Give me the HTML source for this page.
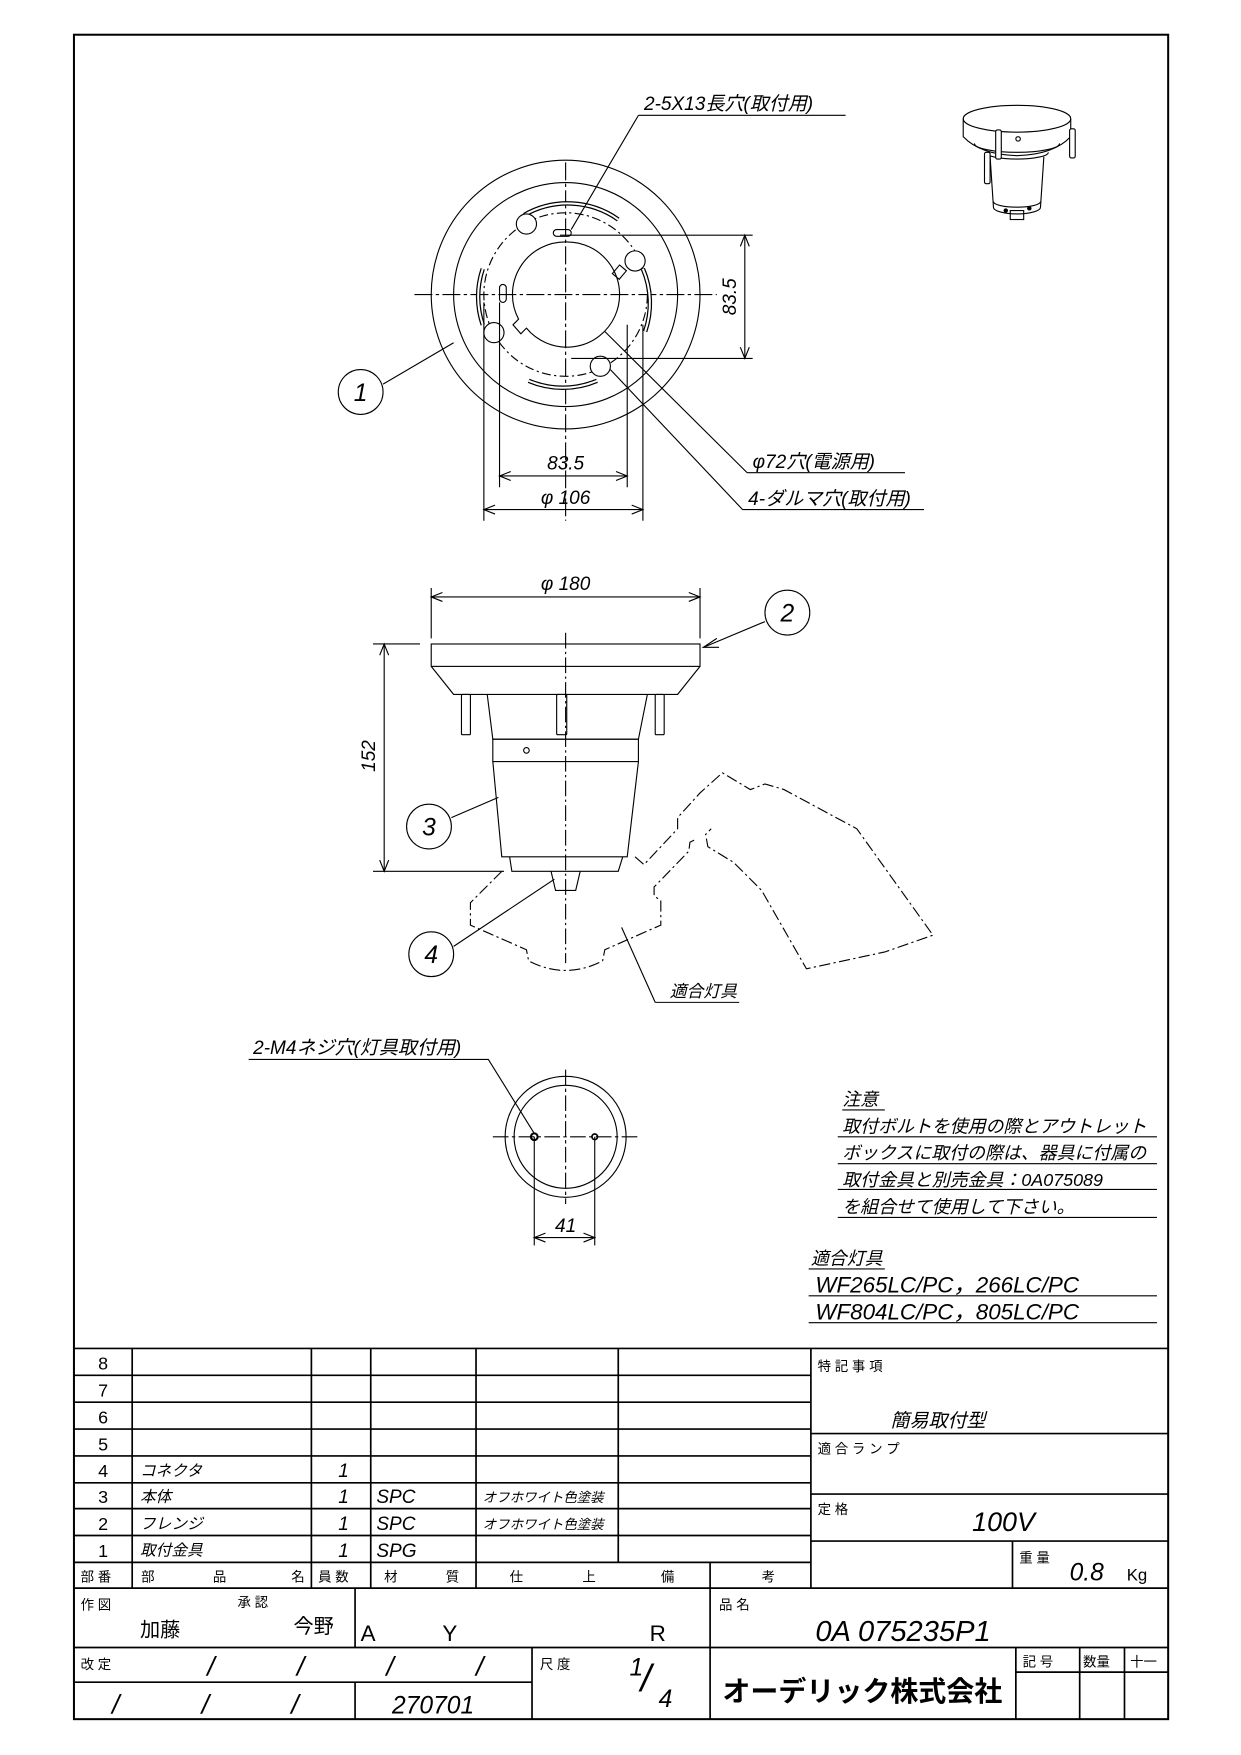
<!DOCTYPE html>
<html><head><meta charset="utf-8"><style>
html,body{margin:0;padding:0;background:#fff}
svg{display:block}
text{font-family:"Liberation Sans","Noto Sans CJK JP",sans-serif;fill:#000}
.i{font-style:italic}
</style></head><body>
<svg width="1241" height="1755" viewBox="0 0 1108 1567" xmlns="http://www.w3.org/2000/svg">
<g fill="none" stroke="#000" stroke-width="1">
<rect x="66" y="31" width="977" height="1504" stroke-width="1.8"/>

<!-- TOP VIEW -->
<circle cx="505" cy="263" r="120"/>
<circle cx="505" cy="263" r="100"/>
<circle cx="505" cy="263" r="73" stroke-dasharray="8,3,2,3"/>
<path d="M505,216 A47,47 0 1,1 470,293 L465,298 L458,290 L463,285 A47,47 0 0,1 505,216Z"/>
<rect x="549" y="238" width="8" height="10" transform="rotate(40 553 243)"/>
<line x1="370" y1="263" x2="640" y2="263" stroke-dasharray="16,3,3,3"/>
<line x1="505" y1="145" x2="505" y2="465" stroke-dasharray="16,3,3,3"/>
<path d="M468,192 A78,78 0 0,1 552,196" stroke-width="4"/>
<path d="M468,192 A78,78 0 0,1 552,196" stroke="#fff" stroke-width="1.8"/>
<path d="M574,240 A78,78 0 0,1 576,296" stroke-width="4"/>
<path d="M574,240 A78,78 0 0,1 576,296" stroke="#fff" stroke-width="1.8"/>
<path d="M431,240 A78,78 0 0,0 431,290" stroke-width="4"/>
<path d="M431,240 A78,78 0 0,0 431,290" stroke="#fff" stroke-width="1.8"/>
<path d="M472,340 A78,78 0 0,0 533,340" stroke-width="4"/>
<path d="M472,340 A78,78 0 0,0 533,340" stroke="#fff" stroke-width="1.8"/>
<circle cx="470" cy="200" r="9" fill="#fff"/>
<circle cx="567" cy="233" r="9" fill="#fff"/>
<circle cx="441" cy="297" r="9" fill="#fff"/>
<circle cx="536" cy="327" r="9" fill="#fff"/>
<rect x="494" y="205" width="16" height="6" rx="3"/>
<rect x="446" y="254" width="6" height="16" rx="3"/>
<line x1="432" y1="270" x2="432" y2="465"/>
<line x1="446" y1="270" x2="446" y2="435"/>
<line x1="560" y1="290" x2="560" y2="435"/>
<line x1="574" y1="290" x2="574" y2="465"/>
<line x1="446" y1="425" x2="560" y2="425"/>
<path d="M456,421 L446,425 L456,429 M550,421 L560,425 L550,429"/>
<line x1="432" y1="455" x2="574" y2="455"/>
<path d="M442,451 L432,455 L442,459 M564,451 L574,455 L564,459"/>
<line x1="500" y1="210" x2="672" y2="210"/>
<line x1="510" y1="320" x2="672" y2="320"/>
<line x1="665" y1="210" x2="665" y2="320"/>
<path d="M661,220 L665,210 L669,220 M661,310 L665,320 L669,310"/>
<path d="M570,103 L755,103 M570,103 L510,205"/>
<path d="M667,422 L808,422 M667,422 L540,296"/>
<path d="M663,455 L825,455 M663,455 L545,330"/>
<circle cx="322" cy="350" r="20"/>
<line x1="342" y1="343" x2="405" y2="306"/>

<!-- 3D thumbnail -->
<ellipse cx="908" cy="106" rx="48" ry="12"/>
<path d="M860,106 L860,122 Q875,138 908,139 Q941,138 956,122 L956,106"/>
<path d="M870,128 A38,8 0 0,0 946,128"/>
<path d="M884,140 L887,185 A21,6 0 0,0 929,185 L932,140"/>
<path d="M880,136 A28,6 0 0,0 936,136"/>
<path d="M887,180 A21,5 0 0,0 929,180"/>
<rect x="902" y="188" width="12" height="8"/>
<circle cx="898" cy="188" r="1.5" fill="#000"/>
<circle cx="919" cy="186" r="1.5" fill="#000"/>
<circle cx="909" cy="124" r="2"/>
<rect x="889" y="116" width="5" height="26" rx="1.5" fill="#fff"/>
<rect x="879" y="136" width="5" height="28" rx="1.5" fill="#fff"/>
<rect x="955" y="115" width="5" height="26" rx="1.5" fill="#fff"/>

<!-- SIDE VIEW -->
<line x1="385" y1="533" x2="625" y2="533"/>
<path d="M395,529 L385,533 L395,537 M615,529 L625,533 L615,537"/>
<line x1="385" y1="525" x2="385" y2="570"/>
<line x1="625" y1="525" x2="625" y2="570"/>
<rect x="385" y="575" width="240" height="20"/>
<path d="M385,595 L405,620 L605,620 L625,595"/>
<path d="M435,620 L440,660 L570,660 L578,620"/>
<rect x="412" y="620" width="8" height="36" rx="1"/>
<rect x="497" y="620" width="9" height="36" rx="1"/>
<rect x="585" y="620" width="8" height="36" rx="1"/>
<rect x="440" y="660" width="130" height="20"/>
<circle cx="470" cy="670" r="2.5"/>
<path d="M440,680 L448,765 L560,765 L570,680"/>
<path d="M455,765 L457,778 L552,778 L556,765"/>
<path d="M492,778 L496,795 L514,795 L518,778"/>
<line x1="505" y1="565" x2="505" y2="860" stroke-dasharray="14,3,2,3"/>
<line x1="333" y1="575" x2="375" y2="575"/>
<line x1="333" y1="778" x2="450" y2="778"/>
<line x1="343" y1="575" x2="343" y2="778"/>
<path d="M339,585 L343,575 L347,585 M339,768 L343,778 L347,768"/>
<g stroke-dasharray="10,3,2,3">
<path d="M448,778 L420,806 L420,826 L470,848 L472,858 Q505,875 538,858 L540,848 L590,826 L590,804 L584,800 L584,792 L615,760 L616,752 L620,750"/>
<path d="M567,765 L575,772 L605,740 L605,730 L625,708 L645,690 L670,705 L683,700 L700,705 L765,740 L833,835 L790,850 L720,865 L700,830 L680,795 L655,770 L632,756 L630,745 L635,740"/>
</g>
<circle cx="703" cy="547" r="20"/>
<line x1="683" y1="555" x2="628" y2="578"/>
<path d="M640,570 L628,578 L642,578"/>
<circle cx="383" cy="738" r="20"/>
<line x1="403" y1="730" x2="445" y2="712"/>
<circle cx="385" cy="852" r="20"/>
<line x1="405" y1="845" x2="495" y2="785"/>
<path d="M585,895 L660,895 M585,895 L555,828"/>

<!-- BOTTOM VIEW -->
<circle cx="505" cy="1015" r="54"/>
<circle cx="505" cy="1015" r="46"/>
<line x1="440" y1="1015" x2="570" y2="1015" stroke-dasharray="14,3,3,3"/>
<line x1="505" y1="955" x2="505" y2="1075" stroke-dasharray="14,3,3,3"/>
<circle cx="477" cy="1015" r="3" stroke-width="1.8"/>
<circle cx="531" cy="1015" r="2.5" stroke-width="1.5"/>
<line x1="477" y1="1015" x2="477" y2="1112"/>
<line x1="531" y1="1015" x2="531" y2="1112"/>
<line x1="477" y1="1105" x2="531" y2="1105"/>
<path d="M487,1101 L477,1105 L487,1109 M521,1101 L531,1105 L521,1109"/>
<path d="M222,946 L436,946 L477,1012"/>

<!-- NOTES underlines -->
<line x1="752" y1="991" x2="790" y2="991"/>
<line x1="748" y1="1015" x2="1033" y2="1015"/>
<line x1="748" y1="1039" x2="1033" y2="1039"/>
<line x1="748" y1="1062" x2="1033" y2="1062"/>
<line x1="748" y1="1087" x2="1033" y2="1087"/>
<line x1="722" y1="1133" x2="790" y2="1133"/>
<line x1="722" y1="1157" x2="1033" y2="1157"/>
<line x1="722" y1="1181" x2="1033" y2="1181"/>

<!-- TITLE BLOCK -->
<g stroke-width="1.5">
<line x1="66" y1="1204" x2="1043" y2="1204"/>
<line x1="66" y1="1228" x2="724" y2="1228"/>
<line x1="66" y1="1252" x2="724" y2="1252"/>
<line x1="66" y1="1276" x2="724" y2="1276"/>
<line x1="66" y1="1300" x2="724" y2="1300"/>
<line x1="66" y1="1324" x2="724" y2="1324"/>
<line x1="66" y1="1347" x2="724" y2="1347"/>
<line x1="66" y1="1371" x2="724" y2="1371"/>
<line x1="66" y1="1395" x2="724" y2="1395"/>
<line x1="66" y1="1418" x2="1043" y2="1418"/>
<line x1="66" y1="1471" x2="1043" y2="1471"/>
<line x1="66" y1="1502" x2="475" y2="1502"/>
<line x1="118" y1="1204" x2="118" y2="1418"/>
<line x1="278" y1="1204" x2="278" y2="1418"/>
<line x1="331" y1="1204" x2="331" y2="1418"/>
<line x1="425" y1="1204" x2="425" y2="1418"/>
<line x1="552" y1="1204" x2="552" y2="1395"/>
<line x1="724" y1="1204" x2="724" y2="1418"/>
<line x1="634" y1="1395" x2="634" y2="1535"/>
<line x1="317" y1="1418" x2="317" y2="1471"/>
<line x1="317" y1="1502" x2="317" y2="1535"/>
<line x1="475" y1="1471" x2="475" y2="1535"/>
<line x1="724" y1="1280" x2="1043" y2="1280"/>
<line x1="724" y1="1334" x2="1043" y2="1334"/>
<line x1="724" y1="1376" x2="1043" y2="1376"/>
<line x1="904" y1="1376" x2="904" y2="1418"/>
<line x1="907" y1="1471" x2="907" y2="1535"/>
<line x1="964" y1="1471" x2="964" y2="1535"/>
<line x1="1004" y1="1471" x2="1004" y2="1535"/>
<line x1="907" y1="1493" x2="1043" y2="1493"/>
</g>
</g>

<!-- TEXT -->
<g class="i" font-size="17">
<text x="575" y="98">2-5X13長穴(取付用)</text>
<text x="505" y="419" text-anchor="middle">83.5</text>
<text x="505" y="450" text-anchor="middle">φ 106</text>
<text x="657" y="265" text-anchor="middle" transform="rotate(-90 657 265)">83.5</text>
<text x="672" y="418">φ72穴(電源用)</text>
<text x="668" y="451">4-ダルマ穴(取付用)</text>
<text x="505" y="527" text-anchor="middle">φ 180</text>
<text x="335" y="675" text-anchor="middle" transform="rotate(-90 335 675)">152</text>
<text x="598" y="890" font-size="15">適合灯具</text>
<text x="226" y="941">2-M4ネジ穴(灯具取付用)</text>
<text x="505" y="1100" text-anchor="middle">41</text>
<text x="752" y="987" font-size="16">注意</text>
<text x="752" y="1011" font-size="16">取付ボルトを使用の際とアウトレット</text>
<text x="752" y="1035" font-size="16">ボックスに取付の際は、器具に付属の</text>
<text x="752" y="1059" font-size="16">取付金具と別売金具：0A075089</text>
<text x="752" y="1083" font-size="16">を組合せて使用して下さい。</text>
<text x="724" y="1129" font-size="16">適合灯具</text>
<text x="728" y="1154" font-size="20">WF265LC/PC，266LC/PC</text>
<text x="728" y="1178" font-size="20">WF804LC/PC，805LC/PC</text>
</g>
<g font-size="22" text-anchor="middle" class="i">
<text x="322" y="358">1</text>
<text x="703" y="555">2</text>
<text x="383" y="746">3</text>
<text x="385" y="860">4</text>
</g>

<g font-size="16">
<text x="92" y="1223" text-anchor="middle">8</text>
<text x="92" y="1247" text-anchor="middle">7</text>
<text x="92" y="1271" text-anchor="middle">6</text>
<text x="92" y="1295" text-anchor="middle">5</text>
<text x="92" y="1319" text-anchor="middle">4</text>
<text x="92" y="1342" text-anchor="middle">3</text>
<text x="92" y="1366" text-anchor="middle">2</text>
<text x="92" y="1390" text-anchor="middle">1</text>
<g class="i" font-size="14">
<text x="125" y="1318">コネクタ</text>
<text x="125" y="1341">本体</text>
<text x="125" y="1365">フレンジ</text>
<text x="125" y="1389">取付金具</text>
<text x="431" y="1341" font-size="12">オフホワイト色塗装</text>
<text x="431" y="1365" font-size="12">オフホワイト色塗装</text>
</g>
<g class="i" font-size="17">
<text x="302" y="1319">1</text><text x="302" y="1342">1</text><text x="302" y="1366">1</text><text x="302" y="1390">1</text>
<text x="336" y="1342">SPC</text><text x="336" y="1366">SPC</text><text x="336" y="1390">SPG</text>
</g>
<g font-size="12">
<text x="72" y="1412">部 番</text>
<text x="126" y="1412">部</text><text x="190" y="1412">品</text><text x="260" y="1412">名</text>
<text x="284" y="1412">員 数</text>
<text x="343" y="1412">材</text><text x="398" y="1412">質</text>
<text x="455" y="1412">仕</text><text x="520" y="1412">上</text>
<text x="590" y="1412">備</text><text x="680" y="1412">考</text>
<text x="730" y="1224">特 記 事 項</text>
<text x="730" y="1298">適 合 ラ ン プ</text>
<text x="730" y="1352">定 格</text>
<text x="910" y="1395">重 量</text>
<text x="72" y="1437">作 図</text>
<text x="212" y="1435">承 認</text>
<text x="642" y="1437">品 名</text>
<text x="72" y="1490">改 定</text>
<text x="482" y="1490">尺 度</text>
<text x="913" y="1488">記 号</text>
<text x="967" y="1488">数量</text>
<text x="1009" y="1488">十一</text>
</g>
<text x="795" y="1274" font-size="17" class="i">簡易取付型</text>
<text x="868" y="1367" font-size="24" class="i">100V</text>
<text x="955" y="1411" font-size="22" class="i">0.8</text><text x="1006" y="1411" font-size="15">Kg</text>
<text x="125" y="1461" font-size="18">加藤</text>
<text x="262" y="1458" font-size="18">今野</text>
<text x="322" y="1465" font-size="20">A</text>
<text x="395" y="1465" font-size="20">Y</text>
<text x="580" y="1465" font-size="20">R</text>
<text x="728" y="1465" font-size="26" class="i">0A  075235P1</text>
<g font-size="24" class="i">
<text x="185" y="1496">/</text><text x="265" y="1496">/</text><text x="345" y="1496">/</text><text x="425" y="1496">/</text>
<text x="100" y="1530">/</text><text x="180" y="1530">/</text><text x="260" y="1530">/</text>
</g>
<text x="350" y="1530" font-size="22" class="i">270701</text>
<text x="562" y="1496" font-size="22" class="i">1</text>
<text x="572" y="1510" font-size="34" class="i">/</text>
<text x="588" y="1524" font-size="22" class="i">4</text>
<text x="645" y="1519" font-size="25" font-weight="bold">オーデリック株式会社</text>
</g>
</svg>
</body></html>
